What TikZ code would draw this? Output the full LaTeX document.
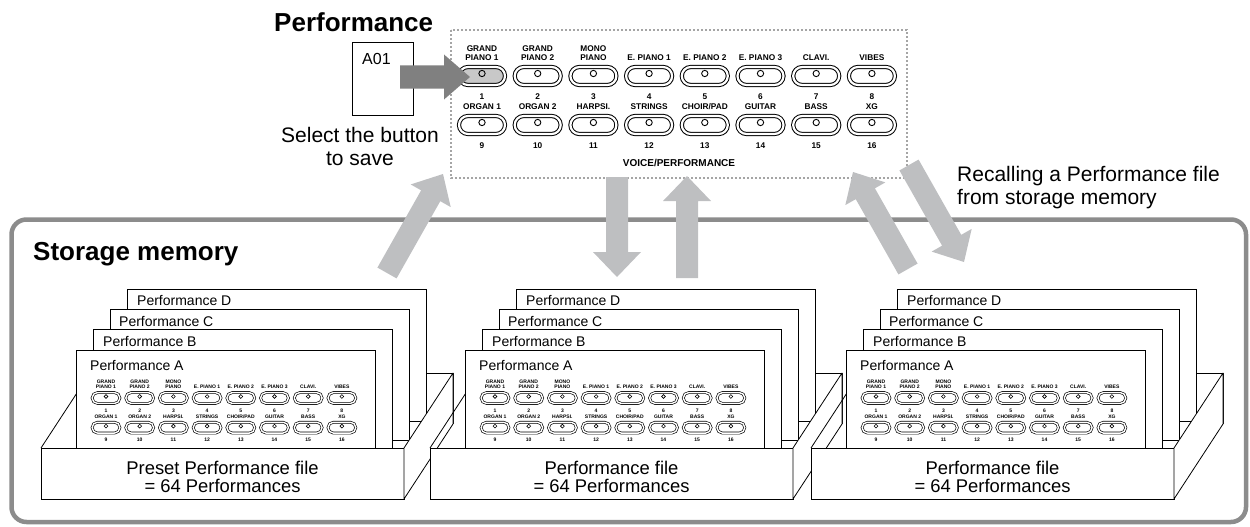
\documentclass[tikz,border=0pt]{standalone}
\usepackage{fontspec}
\setmainfont{Liberation Sans}
\usetikzlibrary{calc,shapes.misc}
\definecolor{arrowgray}{RGB}{190,191,193}
\definecolor{darkarrow}{RGB}{128,128,128}
\definecolor{framegray}{RGB}{140,140,140}
\definecolor{dotgray}{RGB}{165,165,165}
\definecolor{btnfill}{RGB}{200,200,200}
\tikzset{
  btn/.style={rounded rectangle, draw, line width=1pt, double=white, double distance=2.2pt, minimum width=46pt, minimum height=18pt, inner sep=0pt, transform shape},
  lamp/.style={circle, draw, line width=.9pt, minimum size=6.3pt, inner sep=0pt, transform shape},
  btnlabel/.style={font=\fontsize{8.3}{9}\selectfont\bfseries, align=center, anchor=south, inner sep=0pt, text depth=0pt, transform shape},
  btnnum/.style={font=\fontsize{8.3}{9}\selectfont\bfseries, anchor=north, inner sep=0pt, transform shape},
  sheetline/.style={draw=black, fill=white, line width=.8pt},
  sheettext/.style={font=\fontsize{14}{16}\selectfont, anchor=west, inner sep=0pt, text depth=0pt},
  fronttext/.style={font=\fontsize{18.4}{18.5}\selectfont, align=center, inner sep=0pt},
  bodytext/.style={font=\fontsize{21}{23}\selectfont, inner sep=0pt},
  titletext/.style={font=\fontsize{26}{30}\selectfont\bfseries, inner sep=0pt, anchor=base west},
}
% fat arrow: #1 tail, #2 tip, #3 half shaft, #4 half head, #5 head length, #6 style
\newcommand\fatarrow[6]{%
  \path ($(#2)!#5!(#1)$) coordinate (#1-h);
  \fill[#6] ($(#1)!#3!90:(#2)$) -- ($(#1-h)!#3!-90:(#1)$) -- ($(#1-h)!#4!-90:(#1)$) -- (#2)
     -- ($(#1-h)!#4!90:(#1)$) -- ($(#1-h)!#3!90:(#1)$) -- ($(#1)!#3!-90:(#2)$) -- cycle;}
% button grid: #1 prefix, #2 scope options
\newcommand\btngrid[2]{%
\begin{scope}[#2]
\foreach \lab [count=\i from 0] in {{GRAND\\PIANO 1},{GRAND\\PIANO 2},{MONO\\PIANO},{E. PIANO 1},{E. PIANO 2},{E. PIANO 3},{CLAVI.},{VIBES},{ORGAN 1},{ORGAN 2},{HARPSI.},{STRINGS},{CHOIR/PAD},{GUITAR},{BASS},{XG}}{
  \pgfmathtruncatemacro\col{mod(\i,8)}
  \pgfmathtruncatemacro\row{div(\i,8)}
  \pgfmathtruncatemacro\num{\i+1}
  \pgfmathsetmacro\bx{\col*55.7}
  \pgfmathsetmacro\by{\row*49}
  \node[btn, bt\num/.try] (#1b\num) at (\bx,\by) {};
  \node[lamp] (#1l\num) at (\bx,\by-2.5) {};
  \node[btnlabel] (#1t\num) at (\bx,\by-15.5) {\lab};
  \node[btnnum] (#1n\num) at (\bx,\by+17.5) {\num};
}
\end{scope}}
% tray: #1 name, #2 front-left x, #3 front text
\newcommand\tray[3]{%
  \pgfmathsetmacro\trL{#2}
  \pgfmathsetmacro\trR{#2+363}
  \draw[line width=.8pt] (\trL,448) -- (\trL+49,373);
  \fill[white] (\trL+49,373) rectangle (\trR+49,424);
  \draw[line width=.8pt] (\trL+49,373) -- (\trR+49,373) -- (\trR+49,424);
  \draw[sheetline] (\trL+86,289) rectangle (\trL+385,421);
  \node[sheettext] (#1D) at (\trL+96,300) {Performance D};
  \draw[sheetline] (\trL+69,309) rectangle (\trL+368,440);
  \node[sheettext] (#1C) at (\trL+78,321) {Performance C};
  \draw[sheetline] (\trL+52,329) rectangle (\trL+351,448);
  \node[sheettext] (#1B) at (\trL+62,341) {Performance B};
  \draw[sheetline] (\trL+35,350) rectangle (\trL+334,448);
  \node[sheettext] (#1A) at (\trL+49,365) {Performance A};
  \btngrid{#1}{shift={(\trL+65,398)}, scale=.605, btn/.append style={line width=.65pt,double distance=1.4pt}, lamp/.append style={line width=.6pt}}
  \draw[sheetline] (\trL,448) rectangle (\trR,499);
  \draw[sheetline, line join=round] (\trR,448) -- (\trR+49,373) -- (\trR+49,424) -- (\trR,499) -- cycle;
  \node[fronttext] (#1F) at (\trL+181.5,477) {#3};
}
\begin{document}
\begin{tikzpicture}[x=1pt,y=-1pt]
\useasboundingbox (0,0) rectangle (1250,527);
% storage frame
\draw[framegray, line width=4.5pt, rounded corners=15pt] (11.5,219.5) rectangle (1246,522);
\node[titletext] (stmem) at (33,260) {Storage memory};
% trays
\tray{ta}{41}{Preset Performance file\\= 64 Performances}
\tray{tb}{430}{Performance file\\= 64 Performances}
\tray{tc}{811}{Performance file\\= 64 Performances}
% top panel
\node[titletext] (perf) at (274,32) {Performance};
\draw[dotgray, line width=1.8pt, dash pattern=on 1.8pt off 2.2pt] (451,30) rectangle (907,178);
\btngrid{p}{shift={(482,76)}, bt1/.style={fill=btnfill}}
\node[font=\fontsize{10}{12}\selectfont\bfseries, inner sep=0pt] (voice) at (679,163) {VOICE/PERFORMANCE};
\node[draw, line width=1pt, fill=white, minimum width=61pt, minimum height=73pt, inner sep=0pt, anchor=north west] (a01) at (352,42) {};
\node[font=\fontsize{16}{18}\selectfont, anchor=base west, inner sep=0pt] (a01t) at (362,65) {A01};
\node[bodytext, align=center, anchor=north] (sel) at (360,127) {Select the button\\to save};
\node[bodytext, align=left, anchor=north west] (rec) at (957,166) {Recalling a Performance file\\from storage memory};
% light arrows
\coordinate (s1) at (387,273); \coordinate (s1t) at (443,174);
\coordinate (s2) at (617,177); \coordinate (s2t) at (617,277);
\coordinate (s3) at (687,278); \coordinate (s3t) at (687,176);
\coordinate (s4) at (908,269); \coordinate (s4t) at (853,172);
\coordinate (s5) at (909,165); \coordinate (s5t) at (964,262);
\fatarrow{s1}{s1t}{11pt}{23pt}{25pt}{arrowgray}
\fatarrow{s2}{s2t}{11pt}{24pt}{25pt}{arrowgray}
\fatarrow{s3}{s3t}{11pt}{24pt}{25pt}{arrowgray}
\fatarrow{s4}{s4t}{11pt}{23pt}{25pt}{arrowgray}
\fatarrow{s5}{s5t}{11pt}{23pt}{25pt}{arrowgray}
% dark arrow
\coordinate (da) at (400,77); \coordinate (db) at (470,77);
\fatarrow{da}{db}{11.5pt}{22.5pt}{26pt}{darkarrow}
\end{tikzpicture}
\end{document}
